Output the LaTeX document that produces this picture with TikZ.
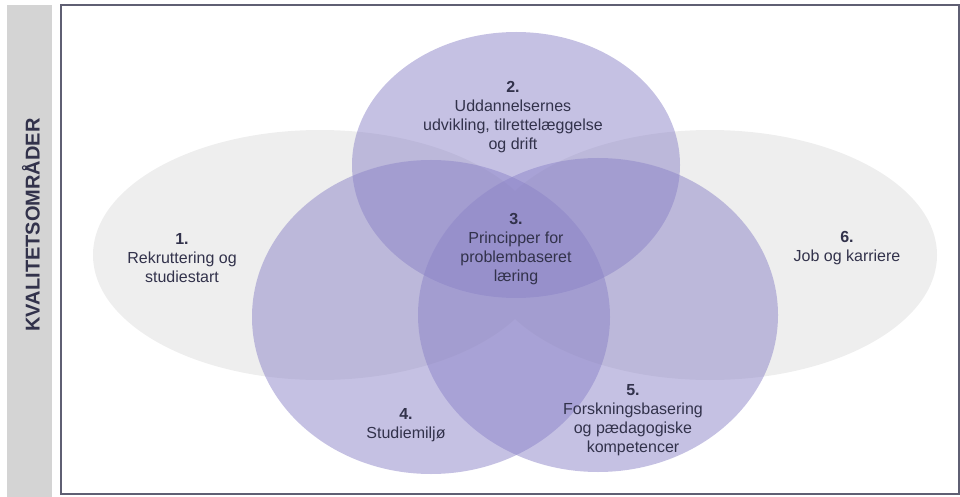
\documentclass[tikz,border=0pt]{standalone}
\usepackage{fontspec}
\setmainfont{Liberation Sans}
\definecolor{lilla}{RGB}{140,132,200}
\definecolor{omraade}{RGB}{238,238,238}
\definecolor{tekst}{RGB}{50,50,75}
\definecolor{bjaelke}{RGB}{212,212,212}
\definecolor{ramme}{RGB}{95,95,115}
\tikzset{
  felt/.style={fill=lilla,fill opacity=0.5},
  bane/.style={fill=omraade},
  etiket/.style={text=tekst,align=center,inner sep=0pt,
    font=\fontsize{16}{19}\selectfont}
}

\begin{document}
\begin{tikzpicture}[x=1pt,y=-1pt]
\useasboundingbox (0,0) rectangle (960,497);
\fill[bjaelke] (7,5) rectangle (52,497);
\node[rotate=90,text=tekst,font=\fontsize{20}{20}\selectfont\bfseries] (titel) at (31,225) {KVALITETSOMRÅDER};
\draw[ramme,line width=1.8pt] (61,5) rectangle (959,494);
\fill[bane] (320,255) ellipse [x radius=227, y radius=125];
\fill[bane] (710,255) ellipse [x radius=227, y radius=125];
\fill[felt] (516,165) ellipse [x radius=164, y radius=133];
\fill[felt] (431,317) ellipse [x radius=179, y radius=157];
\fill[felt] (598,315) ellipse [x radius=180, y radius=157];
\node[etiket] (rekr) at (182,258) {\textbf{1.}\\Rekruttering og\\studiestart};
\node[etiket] (udd) at (513,117) {\textbf{2.}\\Uddannelsernes\\udvikling, tilrettelæggelse\\og drift};
\node[etiket] (pbl) at (516,249) {\textbf{3.}\\Principper for\\problembaseret\\læring};
\node[etiket] (miljo) at (406,425) {\textbf{4.}\\Studiemiljø};
\node[etiket] (forsk) at (633,420) {\textbf{5.}\\Forskningsbasering\\og pædagogiske\\kompetencer};
\node[etiket] (job) at (847,248) {\textbf{6.}\\Job og karriere};
\end{tikzpicture}
\end{document}
